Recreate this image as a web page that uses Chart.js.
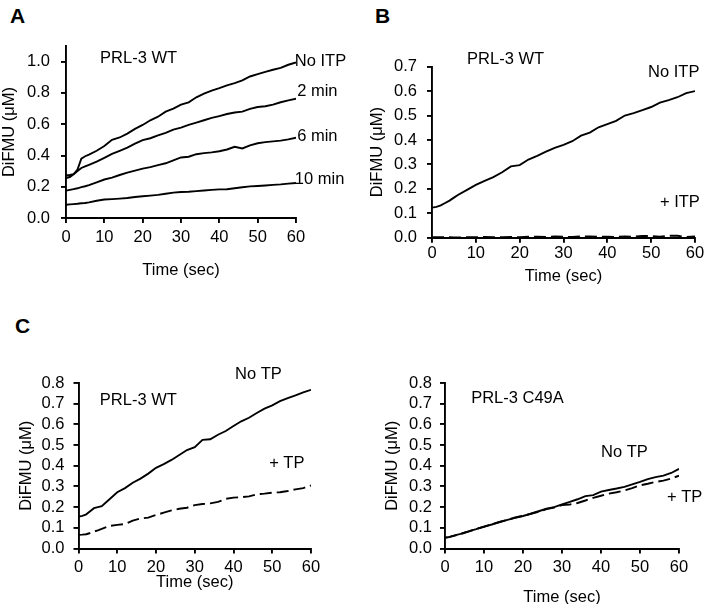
<!DOCTYPE html>
<html>
<head>
<meta charset="UTF-8">
<script src="https://cdn.jsdelivr.net/npm/chart.js@4.4.1/dist/chart.umd.min.js"></script>
<title>DiFMU</title>
<style>
  body { margin: 0; background: #fff; }
  #wrap { position: relative; width: 708px; height: 604px; font-family: 'Liberation Sans', Arial, sans-serif; color: #000; }
  #wrap canvas { position: absolute; }
  .letter { position: absolute; font-weight: bold; font-size: 21px; line-height: 21px; }
</style>
</head>
<body>
<div id="wrap">
  <div class="letter" style="left:10px;top:5px">A</div>
  <div class="letter" style="left:375px;top:5px">B</div>
  <div class="letter" style="left:15px;top:315px">C</div>
  <canvas id="chartA" width="354" height="300" style="left:0;top:0"></canvas>
  <canvas id="chartB" width="354" height="300" style="left:354px;top:0"></canvas>
  <canvas id="chartC" width="354" height="304" style="left:0;top:300px"></canvas>
  <canvas id="chartD" width="354" height="304" style="left:354px;top:300px"></canvas>
</div>
<script>
// time points (sec)
const time = [0, 1, 2, 3, 4, 5, 6, 8, 10, 12, 14, 16, 18, 20, 22, 24, 26, 28, 30,
              32, 34, 36, 38, 40, 42, 44, 46, 48, 50, 52, 54, 56, 58, 60];

// A - PRL-3 WT, ITP preincubation
const noItpA = [0.272, 0.275, 0.28, 0.31, 0.38, 0.395, 0.405, 0.43, 0.46, 0.50, 0.515, 0.54, 0.57, 0.595, 0.625, 0.648, 0.68, 0.70, 0.725,
                0.74, 0.772, 0.795, 0.815, 0.83, 0.848, 0.862, 0.88, 0.905, 0.92, 0.935, 0.948, 0.96, 0.98, 0.995];
const min2A = [0.256, 0.262, 0.28, 0.30, 0.32, 0.33, 0.34, 0.36, 0.385, 0.41, 0.43, 0.45, 0.475, 0.498, 0.51, 0.528, 0.545, 0.565, 0.578,
               0.595, 0.61, 0.625, 0.64, 0.652, 0.665, 0.675, 0.68, 0.698, 0.71, 0.715, 0.725, 0.74, 0.752, 0.763];
const min6A = [0.175, 0.18, 0.185, 0.19, 0.197, 0.203, 0.21, 0.228, 0.246, 0.258, 0.275, 0.29, 0.303, 0.316, 0.325, 0.338, 0.35, 0.368, 0.387,
               0.392, 0.408, 0.415, 0.42, 0.427, 0.438, 0.455, 0.445, 0.465, 0.478, 0.485, 0.49, 0.495, 0.503, 0.513];
const min10A = [0.085, 0.087, 0.089, 0.091, 0.094, 0.096, 0.1, 0.11, 0.118, 0.121, 0.124, 0.128, 0.134, 0.139, 0.143, 0.148, 0.155, 0.162, 0.166,
                0.168, 0.172, 0.176, 0.18, 0.183, 0.184, 0.19, 0.197, 0.202, 0.205, 0.208, 0.212, 0.215, 0.22, 0.224];

// B - PRL-3 WT, with / without ITP
const noItpB = [0.123, 0.126, 0.132, 0.142, 0.152, 0.164, 0.176, 0.196, 0.216, 0.233, 0.248, 0.268, 0.292, 0.297, 0.32, 0.335, 0.352, 0.368, 0.38,
                0.395, 0.418, 0.43, 0.452, 0.465, 0.478, 0.5, 0.51, 0.522, 0.535, 0.553, 0.563, 0.575, 0.592, 0.6];
const plusItpB = [0.002, 0.002, 0.002, 0.002, 0.002, 0.001, 0.001, 0.002, 0.002, 0.003, 0.002, 0.002, 0.003, 0.002, 0.004, 0.004, 0.003, 0.005, 0.004,
                  0.003, 0.005, 0.005, 0.004, 0.004, 0.003, 0.005, 0.004, 0.007, 0.007, 0.004, 0.008, 0.008, 0.003, 0.005];

// C - PRL-3 WT, with / without TP
const noTpC = [0.154, 0.158, 0.165, 0.18, 0.195, 0.2, 0.205, 0.238, 0.272, 0.292, 0.318, 0.338, 0.362, 0.39, 0.408, 0.428, 0.452, 0.476, 0.49,
               0.525, 0.528, 0.55, 0.568, 0.592, 0.615, 0.632, 0.655, 0.676, 0.692, 0.712, 0.727, 0.74, 0.755, 0.767];
const plusTpC = [0.066, 0.067, 0.069, 0.075, 0.082, 0.088, 0.095, 0.109, 0.114, 0.118, 0.135, 0.145, 0.149, 0.162, 0.173, 0.184, 0.192, 0.197, 0.21,
                 0.215, 0.218, 0.225, 0.24, 0.246, 0.248, 0.252, 0.262, 0.265, 0.27, 0.272, 0.278, 0.286, 0.292, 0.305];

// D - PRL-3 C49A, with / without TP
const noTpD = [0.053, 0.055, 0.061, 0.066, 0.071, 0.077, 0.083, 0.094, 0.106, 0.116, 0.128, 0.138, 0.148, 0.157, 0.168, 0.18, 0.192, 0.2, 0.213,
               0.225, 0.238, 0.253, 0.258, 0.275, 0.283, 0.29, 0.298, 0.31, 0.322, 0.335, 0.345, 0.352, 0.365, 0.385];
const plusTpD = [0.052, 0.055, 0.06, 0.065, 0.07, 0.076, 0.082, 0.095, 0.105, 0.117, 0.128, 0.138, 0.15, 0.158, 0.168, 0.178, 0.19, 0.198, 0.21,
                 0.213, 0.22, 0.232, 0.245, 0.255, 0.265, 0.272, 0.28, 0.292, 0.305, 0.313, 0.322, 0.328, 0.338, 0.352];

// tick labels
const xTicks = [0, 10, 20, 30, 40, 50, 60];
const yTicksA = [0, 0.2, 0.4, 0.6, 0.8, 1.0];
const yTicksB = [0, 0.1, 0.2, 0.3, 0.4, 0.5, 0.6, 0.7];
const yTicksC = [0, 0.1, 0.2, 0.3, 0.4, 0.5, 0.6, 0.7, 0.8];

const FONT = "'Liberation Sans', Arial, sans-serif";
const FS = 16.5;

function pts(vals) {
    return vals.map((v, i) => ({ x: time[i], y: v }));
}
function solid(vals) {
    return { data: pts(vals), borderColor: '#000', borderWidth: 1.9, pointRadius: 0, tension: 0 };
}
function dashed(vals) {
    return { data: pts(vals), borderColor: '#000', borderWidth: 1.9, borderDash: [12, 5], pointRadius: 0, tension: 0 };
}

// text labels drawn at data coordinates
const notesPlugin = {
    id: 'notes',
    afterDatasetsDraw(chart, args, opts) {
        const { ctx, scales } = chart;
        ctx.save();
        ctx.fillStyle = '#000';
        ctx.font = FS + 'px ' + FONT;
        ctx.textBaseline = 'middle';
        ctx.textAlign = 'left';
        (opts.items || []).forEach(n => {
            ctx.fillText(n.text, scales.x.getPixelForValue(n.t), scales.y.getPixelForValue(n.v));
        });
        ctx.restore();
    }
};

function makePanel(id, p) {
    const canvas = document.getElementById(id);
    const W = canvas.width, H = canvas.height;
    return new Chart(canvas, {
        type: 'line',
        data: { datasets: p.datasets },
        plugins: [notesPlugin],
        options: {
            responsive: false,
            animation: false,
            devicePixelRatio: 1,
            layout: { padding: { left: 0, top: p.area.t, right: W - p.area.r, bottom: 0 } },
            plugins: {
                legend: { display: false },
                tooltip: { enabled: false },
                notes: { items: p.notes }
            },
            scales: {
                x: {
                    type: 'linear', min: 0, max: 60,
                    afterBuildTicks: s => { s.ticks = xTicks.map(v => ({ value: v })); },
                    afterFit: s => { s.height = H - p.area.b; },
                    grid: { drawOnChartArea: false, drawTicks: true, tickLength: 5, color: '#000', lineWidth: 1.9 },
                    border: { display: true, color: '#000', width: 1.9 },
                    ticks: { color: '#000', padding: p.xTickPad, maxRotation: 0, autoSkip: false,
                             font: { family: FONT, size: FS }, callback: v => String(v) },
                    title: { display: true, text: 'Time (sec)', color: '#000',
                             font: { family: FONT, size: FS, lineHeight: 1 },
                             padding: { top: 0, bottom: H - FS / 2 - p.xTitleY } }
                },
                y: {
                    type: 'linear', min: 0, max: p.yMax,
                    afterBuildTicks: s => { s.ticks = p.yTicks.map(v => ({ value: v })); },
                    afterFit: s => { s.width = p.area.l; },
                    grid: { drawOnChartArea: false, drawTicks: true, tickLength: 5, color: '#000', lineWidth: 1.9 },
                    border: { display: true, color: '#000', width: 1.9 },
                    ticks: { color: '#000', padding: p.yTickPad, autoSkip: false,
                             font: { family: FONT, size: FS }, callback: v => v.toFixed(1) },
                    title: { display: true, text: 'DiFMU (\u03bcM)', color: '#000',
                             font: { family: FONT, size: FS, lineHeight: 1 },
                             padding: { top: p.yTitleX - FS / 2, bottom: 0 } }
                }
            }
        }
    });
}

makePanel('chartA', {
    area: { l: 66, r: 296, t: 46, b: 218 }, yMax: 1.1, yTicks: yTicksA,
    xTickPad: 5, yTickPad: 11, xTitleY: 270, yTitleX: 9,
    datasets: [solid(noItpA), solid(min2A), solid(min6A), solid(min10A)],
    notes: [
        { text: 'PRL-3 WT', t: 8.9, v: 1.02 },
        { text: 'No ITP', t: 59.7, v: 1.0 },
        { text: '2 min', t: 60.3, v: 0.81 },
        { text: '6 min', t: 60.3, v: 0.52 },
        { text: '10 min', t: 59.7, v: 0.244 }
    ]
});

makePanel('chartB', {
    area: { l: 78, r: 341, t: 66.7, b: 237.7 }, yMax: 0.7, yTicks: yTicksB,
    xTickPad: 1, yTickPad: 10, xTitleY: 276, yTitleX: 23,
    datasets: [solid(noItpB), dashed(plusItpB)],
    notes: [
        { text: 'PRL-3 WT', t: 8.0, v: 0.731 },
        { text: 'No ITP', t: 49.3, v: 0.678 },
        { text: '+ ITP', t: 52.0, v: 0.146 }
    ]
});

makePanel('chartC', {
    area: { l: 78.5, r: 311, t: 83, b: 248.5 }, yMax: 0.8, yTicks: yTicksC,
    xTickPad: 4, yTickPad: 9, xTitleY: 282, yTitleX: 26,
    datasets: [solid(noTpC), dashed(plusTpC)],
    notes: [
        { text: 'No TP', t: 40.4, v: 0.839 },
        { text: 'PRL-3 WT', t: 5.5, v: 0.718 },
        { text: '+ TP', t: 49.2, v: 0.413 }
    ]
});

makePanel('chartD', {
    area: { l: 91, r: 325, t: 83, b: 248.5 }, yMax: 0.8, yTicks: yTicksC,
    xTickPad: 4, yTickPad: 8, xTitleY: 297, yTitleX: 38,
    datasets: [solid(noTpD), dashed(plusTpD)],
    notes: [
        { text: 'PRL-3 C49A', t: 6.7, v: 0.727 },
        { text: 'No TP', t: 40.0, v: 0.462 },
        { text: '+ TP', t: 56.9, v: 0.249 }
    ]
});
</script>
</body>
</html>
